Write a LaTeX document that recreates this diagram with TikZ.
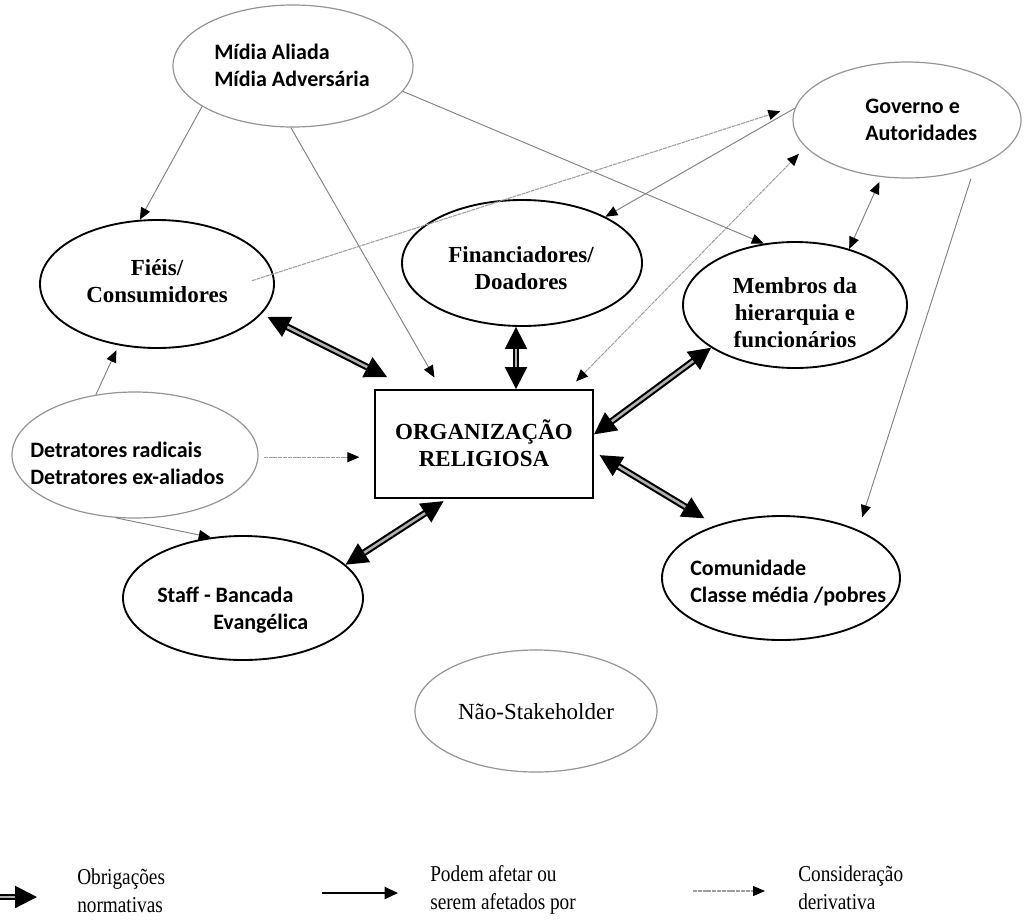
\documentclass[tikz,border=0pt]{standalone}
\usepackage{fontspec}
\setmainfont{Liberation Serif}
\newfontfamily\calib{Carlito}
\newfontfamily\legfont[FakeStretch=0.85]{Liberation Serif}
\usetikzlibrary{shapes.geometric,arrows.meta,calc}
\begin{document}
\begin{tikzpicture}[x=0.75pt,y=-0.75pt,
  blackell/.style={ellipse,draw=black,line width=1.4pt,inner sep=0pt},
  grayell/.style={ellipse,draw=black!42,line width=0.9pt,inner sep=0pt},
  serifb/.style={font=\fontsize{17.25}{20.25}\selectfont\bfseries,align=center,inner sep=0pt},
  sansb/.style={font=\calib\fontsize{16.5}{20.25}\selectfont\bfseries,align=left,inner sep=0pt},
  legtext/.style={font=\legfont\fontsize{17}{21}\selectfont,align=left,inner sep=0pt,anchor=west},
  normtip/.tip={Triangle[length=16.5pt,width=16.5pt]},
  norm/.style={double=black!30,double distance=1.9pt,line width=1.6pt,normtip-normtip},
  normone/.style={double=black!30,double distance=1.9pt,line width=1.6pt,-normtip},
  dtip/.tip={Triangle[length=9pt,width=7.5pt,color=black]},
  deriv/.style={draw=black!50,line width=0.7pt,-dtip},
  derivboth/.style={draw=black!50,line width=0.7pt,dtip-dtip},
  derivlight/.style={draw=black!38,line width=0.8pt,dash pattern=on 3pt off 0.6pt,-dtip},
  affect/.style={draw=black,line width=1.6pt,-{Triangle[length=10pt,width=9pt]}}
]
\useasboundingbox (0,0) rectangle (1030,921);

% ellipses and box
\node[grayell,minimum width=180pt,minimum height=91.5pt] (mid) at (293,66) {};
\node[grayell,minimum width=171pt,minimum height=87pt] (gov) at (907,120) {};
\node[blackell,minimum width=175.5pt,minimum height=96pt] (fie) at (157,284) {};
\node[blackell,minimum width=180pt,minimum height=94.5pt] (fin) at (522,263) {};
\node[blackell,minimum width=168pt,minimum height=94.5pt] (mem) at (795,305) {};
\node[blackell,minimum width=178.5pt,minimum height=93pt] (com) at (781,578) {};
\node[grayell,minimum width=184.5pt,minimum height=94.5pt] (det) at (135,455) {};
\node[blackell,minimum width=180pt,minimum height=93pt] (sta) at (243,598) {};
\node[grayell,minimum width=181.5pt,minimum height=91.5pt] (nao) at (536,711) {};
\node[draw,line width=1.4pt,minimum width=163.5pt,minimum height=81pt,inner sep=0pt] (org) at (484,444) {};

% texts
\node[sansb,anchor=west] (midt) at (214,65) {Mídia Aliada\\Mídia Adversária};
\node[sansb,anchor=west] (govt) at (865,120) {Governo e\\Autoridades};
\node[serifb] (fiet) at (157,281) {Fiéis/\\Consumidores};
\node[serifb] (fint) at (521,268) {Financiadores/\\Doadores};
\node[serifb] (memt) at (795,313) {Membros da\\hierarquia e\\funcionários};
\node[serifb] (orgt) at (484,443) {ORGANIZAÇÃO\\RELIGIOSA};
\node[sansb,anchor=west] (dett) at (30,463) {Detratores radicais\\Detratores ex-aliados};
\node[sansb,anchor=west] (stat) at (157,610) {Staff - Bancada\\\hspace*{42pt}Evangélica};
\node[sansb,anchor=west] (comt) at (690,583) {Comunidade\\Classe média /pobres};
\node[font=\fontsize{17.25}{20}\selectfont,inner sep=0pt] (naot) at (536,712) {Não-Stakeholder};

% derivative (thin gray) connectors
\draw[deriv] (mid.204) -- (fie.105);
\draw[deriv,shorten >=10pt] (mid.268) -- (org.128);
\draw[deriv] (mid.-13.6) -- (mem.117);
\draw[derivlight,shorten <=-17pt,shorten >=12pt] (fie.5.5) -- (gov.173.3);
\draw[deriv] (gov.174) -- (fin.29);
\draw[derivboth,draw=black!40,dash pattern=on 3pt off 0.6pt,shorten <=8pt,shorten >=7pt] (org.33) -- (gov.195.4);
\draw[derivboth,shorten <=4pt] (gov.246.5) -- (mem.46.5);
\draw[deriv,shorten <=9pt,shorten >=10pt] (gov.-35) -- (com.32.6);
\draw[deriv,shorten >=4pt] (det.123.5) -- (fie.238.8);
\draw[derivlight,shorten <=4pt,shorten >=11pt] (det.-1) -- (det.-1 -| org.west);
\draw[deriv] (det.253.8) -- (sta.118.6);

% normative (double) connectors
\draw[norm,shorten <=5pt] (fie.-16.7) -- ($(org.north west)+(13,-12)$);
\draw[norm] ($(fin.south)+(-6,0)$) -- ($(fin.south |- org.north)+(-6,0)$);
\draw[norm] (org.5.8) -- (mem.207.3);
\draw[norm,shorten <=5pt,shorten >=10pt] (org.-4.7) -- (com.141.3);
\draw[norm,shorten >=3pt] (sta.18.6) -- (org.236.3);

% legend
\coordinate (l1a) at (0,897);
\coordinate (l1b) at (37,897);
\draw[normone] (l1a) -- (l1b);
\node[legtext] (l1t) at (77,891) {Obrigações\\normativas};
\coordinate (l2a) at (322,893);
\coordinate (l2b) at (398,893);
\draw[affect] (l2a) -- (l2b);
\node[legtext] (l2t) at (430,890) {Podem afetar ou\\serem afetados por};
\coordinate (l3a) at (693,891);
\coordinate (l3b) at (765,891);
\draw[derivlight] (l3a) -- (l3b);
\node[legtext] (l3t) at (798,888) {Consideração\\derivativa};
\end{tikzpicture}
\end{document}
